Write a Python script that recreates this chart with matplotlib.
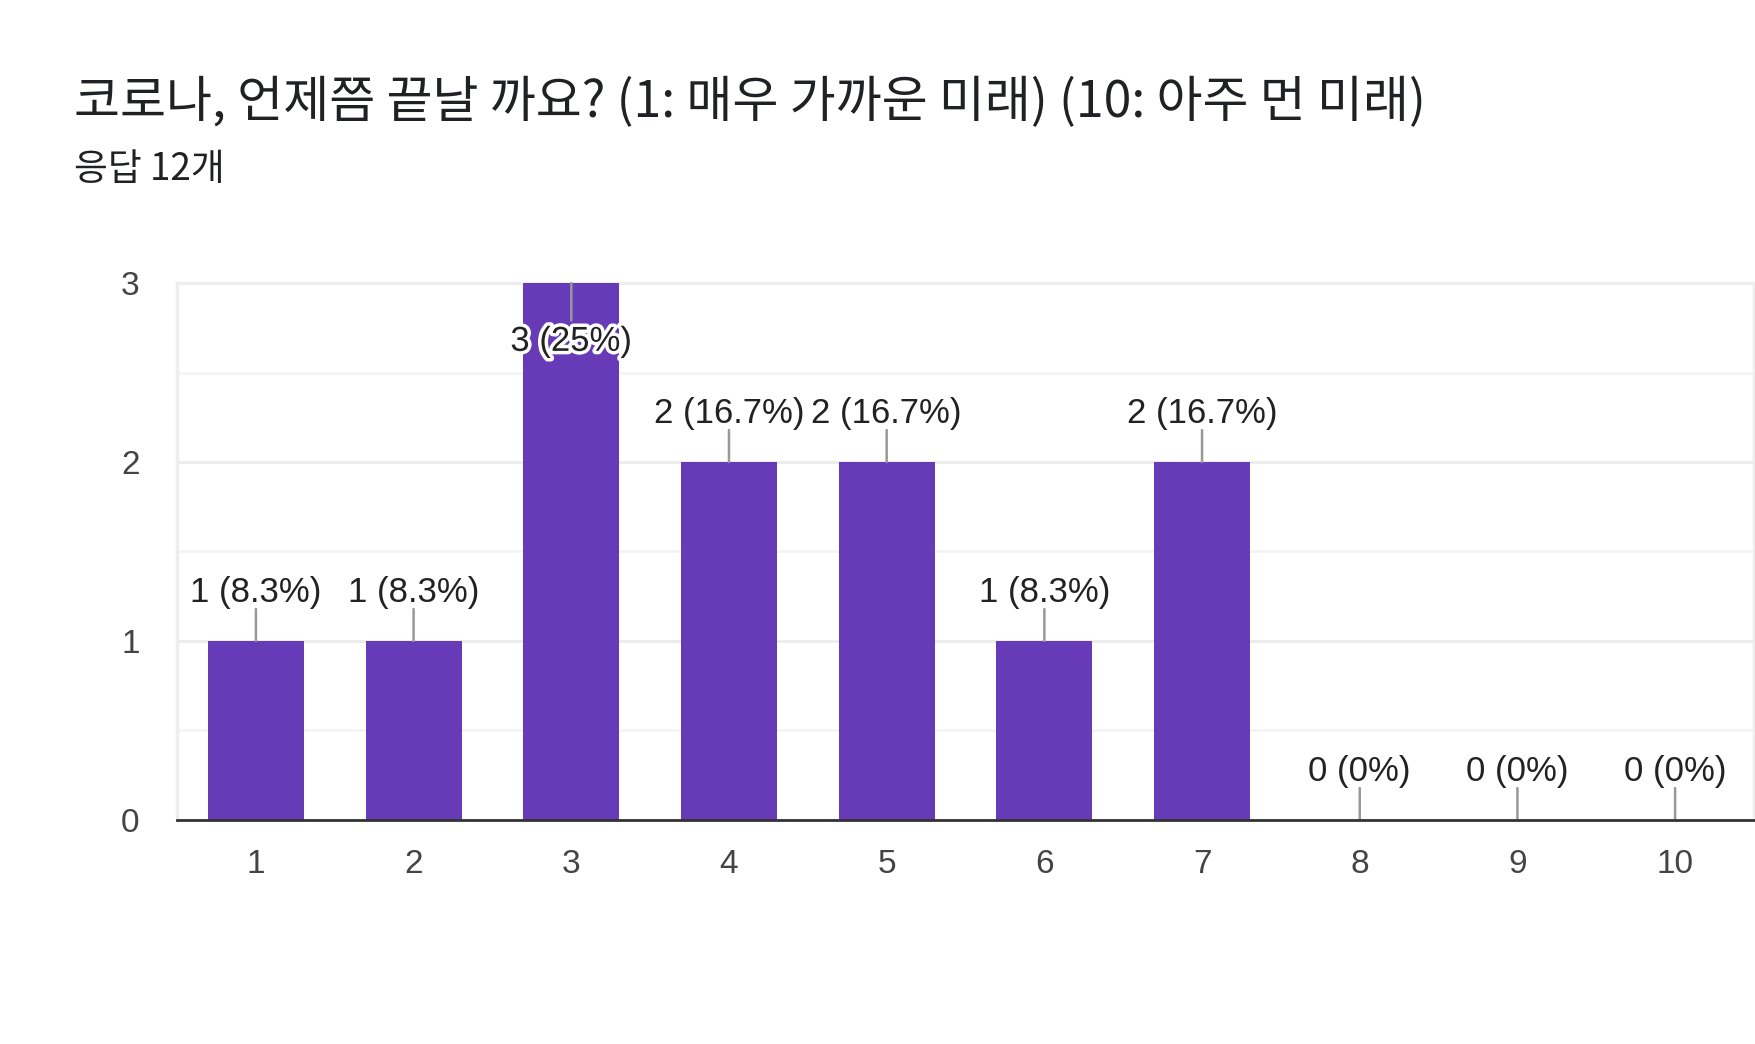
import matplotlib
matplotlib.use('Agg')
from matplotlib import pyplot as plt
import matplotlib.patheffects as pe

plt.rcParams['font.family'] = ['Noto Sans CJK KR', 'DejaVu Sans']

categories = ['1', '2', '3', '4', '5', '6', '7', '8', '9', '10']
counts = [1, 1, 3, 2, 2, 1, 2, 0, 0, 0]
total = 12
title = '코로나, 언제쯤 끝날 까요? (1: 매우 가까운 미래) (10: 아주 먼 미래)'
subtitle = '응답 12개'

purple = '#673ab7'

fig = plt.figure(figsize=(17.55, 10.44), dpi=100)
ax = fig.add_axes([0.1009, 0.2146, 0.8985, 0.5143])

x = list(range(len(categories)))
ax.bar(x, counts, width=0.61, color=purple, zorder=3)

ax.set_xlim(-0.5, 9.5)
ax.set_ylim(0, 3)
ax.set_yticks([0, 1, 2, 3])
ax.set_yticks([0.5, 1.5, 2.5], minor=True)
ax.set_xticks(x)
ax.set_xticklabels(categories)
ax.grid(axis='y', which='major', color='#ebebeb', linewidth=2, zorder=0)
ax.grid(axis='y', which='minor', color='#f4f4f4', linewidth=2, zorder=0)
ax.tick_params(axis='both', which='both', length=0, labelsize=24, colors='#444444',
               labelfontfamily='Liberation Sans')
ax.tick_params(axis='x', pad=21)
ax.tick_params(axis='y', pad=27)

for side in ['left', 'top', 'right']:
    ax.spines[side].set_color('#eeeeee')
    ax.spines[side].set_linewidth(2.5)
ax.spines['bottom'].set_color('#333333')
ax.spines['bottom'].set_linewidth(2)
ax.spines['bottom'].set_zorder(5)

for xi, c in zip(x, counts):
    pct = c / total * 100
    if c == 0:
        lab = '0 (0%)'
    else:
        s = ('%.1f' % pct).rstrip('0').rstrip('.')
        lab = '%d (%s%%)' % (c, s)
    if c == max(counts):
        # label sits inside the bar, stem hangs down from the top
        ax.annotate('', xy=(xi, c), xytext=(0, -27), textcoords='offset points',
                    arrowprops=dict(arrowstyle='-', color='#999999', lw=1.8,
                                    shrinkA=0, shrinkB=0), zorder=4)
        ax.annotate(lab, xy=(xi, c), xytext=(0, -42), textcoords='offset points',
                    ha='center', va='center', fontsize=25, color='#222222',
                    family='Liberation Sans', zorder=6,
                    path_effects=[pe.withStroke(linewidth=5, foreground='white')])
    else:
        ax.annotate('', xy=(xi, c), xytext=(0, 23), textcoords='offset points',
                    arrowprops=dict(arrowstyle='-', color='#999999', lw=1.8,
                                    shrinkA=0, shrinkB=0), zorder=4)
        ax.annotate(lab, xy=(xi, c), xytext=(0, 35), textcoords='offset points',
                    ha='center', va='center', fontsize=25, color='#222222',
                    family='Liberation Sans', zorder=6)

fig.text(0.0421, 0.901, title, fontsize=36, color='#202124', va='center', ha='left')
fig.text(0.0421, 0.838, subtitle, fontsize=26.5, color='#202124', va='center', ha='left')

fig.savefig('out.png', dpi=100)
